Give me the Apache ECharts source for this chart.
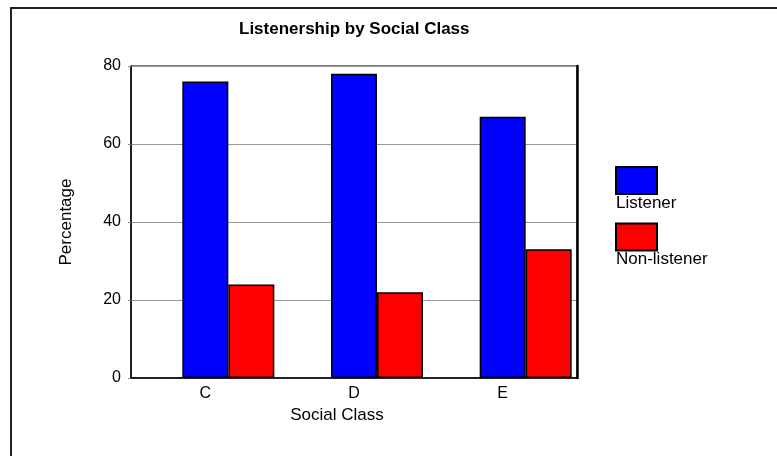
<!DOCTYPE html>
<html>
<head>
<meta charset="utf-8">
<script src="https://cdn.jsdelivr.net/npm/echarts@6/dist/echarts.min.js"></script>
<style>
  html, body { margin: 0; padding: 0; background: #fff; }
  #chart { width: 777px; height: 456px; }
</style>
</head>
<body>
<div id="chart"></div>
<script>
var categories = ['C', 'D', 'E'];
var listener = [76, 78, 67];
var nonListener = [24, 22, 33];
var yTicks = [0, 20, 40, 60, 80];

var font = 'Liberation Sans, Arial, sans-serif';
var chart = echarts.init(document.getElementById('chart'), null, {renderer: 'canvas'});

var barStyle = function (color) {
    return {color: color, borderColor: '#000', borderWidth: 1.5};
};

chart.setOption({
    animation: false,
    backgroundColor: '#fff',
    title: {
        text: 'Listenership by Social Class',
        left: 234,
        top: 16,
        textStyle: {fontFamily: font, fontSize: 17, fontWeight: 'bold', color: '#000'}
    },
    graphic: [{
        type: 'rect',
        shape: {x: 11, y: 8, width: 900, height: 600},
        style: {fill: 'none', stroke: '#222', lineWidth: 2},
        silent: true
    }],
    legend: {
        data: ['Listener', 'Non-listener'],
        orient: 'vertical',
        left: 615,
        top: 166,
        padding: 0,
        icon: 'rect',
        itemWidth: 41,
        itemHeight: 27,
        itemGap: 11,
        selectedMode: false,
        // label goes under the swatch: an empty first line pushes it down
        formatter: function (name) { return '{s| }\n{t|' + name + '}'; },
        textStyle: {
            fontFamily: font, fontSize: 17, color: '#000', padding: [0, 0, 0, -46],
            rich: {
                s: {fontSize: 1, lineHeight: 45},
                t: {fontFamily: font, fontSize: 17, color: '#000', lineHeight: 20}
            }
        }
    },
    grid: {
        left: 131, right: 200, top: 66, bottom: 78,
        show: true, borderColor: '#000', borderWidth: 1, backgroundColor: '#fff'
    },
    xAxis: {
        type: 'category',
        data: categories,
        name: 'Social Class',
        nameLocation: 'middle',
        nameGap: 29,
        nameTextStyle: {fontFamily: font, fontSize: 17, color: '#000', padding: [0, 34, 0, 0]},
        axisLine: {lineStyle: {color: '#000', width: 1.5}},
        axisTick: {alignWithLabel: false, length: 5, lineStyle: {color: '#888', width: 1.5}},
        axisLabel: {fontFamily: font, fontSize: 16, color: '#000', margin: 8}
    },
    yAxis: [{
        type: 'value',
        min: yTicks[0],
        max: yTicks[yTicks.length - 1],
        interval: 20,
        name: 'Percentage',
        nameLocation: 'middle',
        nameGap: 56,
        nameTextStyle: {fontFamily: font, fontSize: 17, color: '#000'},
        axisLine: {show: true, lineStyle: {color: '#000', width: 1.5}},
        axisTick: {show: true, length: 3, lineStyle: {color: '#888'}},
        axisLabel: {fontFamily: font, fontSize: 16, color: '#000', margin: 10},
        splitLine: {lineStyle: {color: '#999', width: 1}}
    }, {
        type: 'value',
        position: 'right',
        min: 0, max: 80,
        axisLine: {show: true, lineStyle: {color: '#000', width: 2.5}},
        axisTick: {show: false},
        axisLabel: {show: false},
        splitLine: {show: false}
    }],
    series: [{
        name: '_pad',
        type: 'bar',
        data: [],
        barWidth: 46,
        barGap: '0%'
    }, {
        name: 'Listener',
        type: 'bar',
        data: listener,
        barWidth: 46,
        barGap: '0%',
        itemStyle: barStyle('#0000ff')
    }, {
        name: 'Non-listener',
        type: 'bar',
        data: nonListener,
        barWidth: 46,
        barGap: '0%',
        itemStyle: barStyle('#ff0000')
    }]
});
</script>
</body>
</html>
